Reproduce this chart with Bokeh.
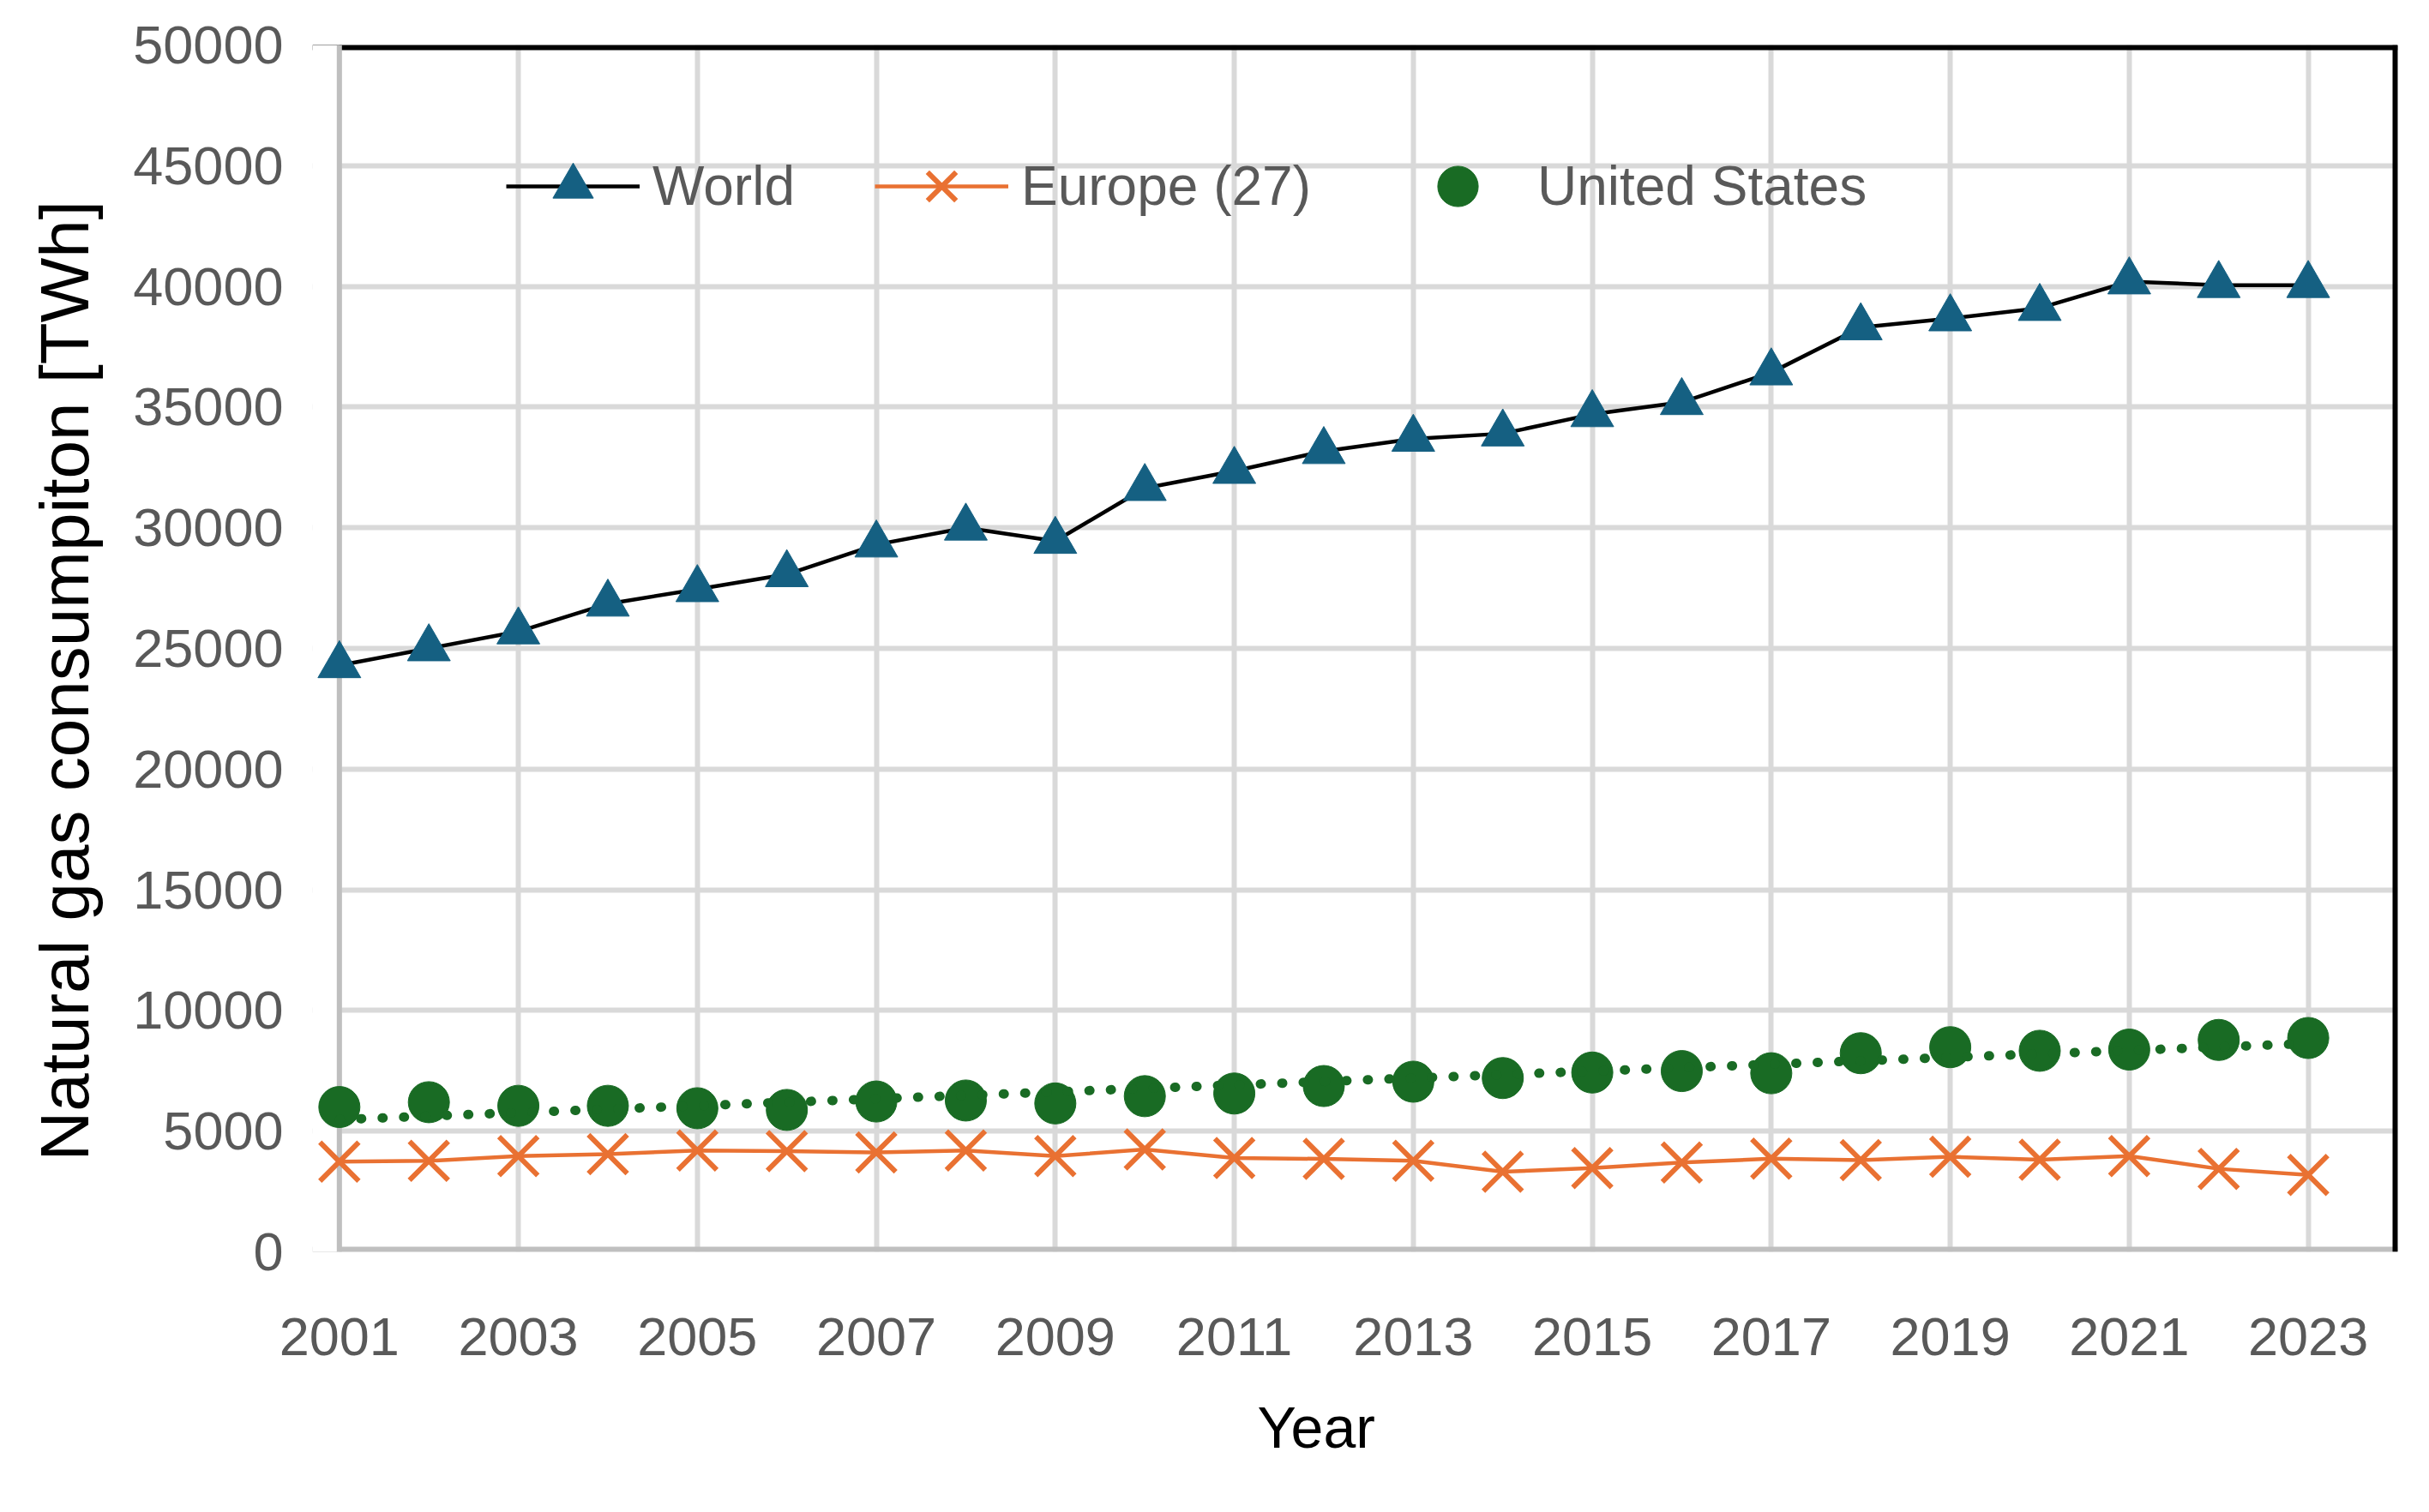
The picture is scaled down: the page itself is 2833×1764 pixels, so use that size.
import numpy as np
from bokeh.plotting import figure
from bokeh.models import (Range1d, FixedTicker, Span, Legend, LegendItem,
                          ColumnDataSource, Title, BoxAnnotation)
from bokeh.embed import file_html
from bokeh.resources import INLINE

# ---------------- data ----------------
years = [2001, 2002, 2003, 2004, 2005, 2006, 2007, 2008, 2009, 2010, 2011, 2012,
         2013, 2014, 2015, 2016, 2017, 2018, 2019, 2020, 2021, 2022, 2023]
world = [24300, 25000, 25700, 26850, 27450, 28070, 29300, 30000, 29450, 31640, 32350, 33170,
         33680, 33900, 34700, 35200, 36430, 38300, 38670, 39100, 40200, 40050, 40050]
europe = [3740, 3770, 3970, 4050, 4200, 4170, 4120, 4200, 3970, 4240, 3890, 3850,
          3770, 3320, 3470, 3700, 3860, 3800, 3940, 3820, 3970, 3440, 3190]
usa = [6000, 6200, 6050, 6050, 5950, 5880, 6230, 6270, 6150, 6450, 6560, 6870,
       7050, 7200, 7430, 7490, 7400, 8230, 8480, 8330, 8380, 8780, 8860]
series_names = ["World", "Europe (27)", "United States"]
y_ticks = [0, 5000, 10000, 15000, 20000, 25000, 30000, 35000, 40000, 45000, 50000]
y_tick_labels = ["0", "5000", "10000", "15000", "20000", "25000", "30000", "35000",
                 "40000", "45000", "50000"]
x_ticks = [2001, 2003, 2005, 2007, 2009, 2011, 2013, 2015, 2017, 2019, 2021, 2023]
x_tick_labels = ["2001", "2003", "2005", "2007", "2009", "2011", "2013", "2015",
                 "2017", "2019", "2021", "2023"]
y_title = "Natural gas consumpiton [TWh]"
x_title = "Year"

FONT = "Liberation Sans"
GRAY_TXT = "#595959"
X0, X_AXIS, X1 = 2000.7, 2001, 2024   # small room left of the y axis so the first markers are whole

p = figure(frame_width=2432, frame_height=1408,
           min_border_left=358, min_border_right=27, min_border_top=52, min_border_bottom=286,
           x_range=Range1d(X0, X1), y_range=Range1d(0, 50000),
           output_backend="svg", toolbar_location=None,
           background_fill_color="white", border_fill_color="white")
p.outline_line_color = None

# grid
p.xgrid.ticker = FixedTicker(ticks=x_ticks)
p.ygrid.ticker = FixedTicker(ticks=y_ticks)
p.grid.grid_line_color = "#D9D9D9"
p.grid.grid_line_width = 6

# axes
p.xaxis.ticker = FixedTicker(ticks=x_ticks)
p.yaxis.ticker = FixedTicker(ticks=y_ticks)
p.xaxis.major_label_overrides = {t: s for t, s in zip(x_ticks, x_tick_labels)}
p.yaxis.major_label_overrides = {t: s for t, s in zip(y_ticks, y_tick_labels)}
for ax in (p.xaxis[0], p.yaxis[0]):
    ax.axis_line_color = None
    ax.major_tick_line_color = None
    ax.minor_tick_line_color = None
    ax.major_tick_out = 0
    ax.major_tick_in = 0
    ax.minor_tick_out = 0
    ax.major_label_text_font = FONT
    ax.major_label_text_font_size = "63px"
    ax.major_label_text_color = GRAY_TXT
p.yaxis.major_label_standoff = 34
p.xaxis.major_label_standoff = 77

# axis titles as side-panel titles (allows the offsets seen in the reference)
p.add_layout(Title(text=y_title, align="left", offset=106, vertical_align="top",
                   standoff=61, text_font=FONT, text_font_size="80px",
                   text_font_style="normal", text_color="black"), "left")
p.add_layout(Title(text=x_title, align="left", offset=1071 + 31, vertical_align="top",
                   standoff=87, text_font=FONT, text_font_size="68px",
                   text_font_style="normal", text_color="black"), "below")

# axis lines (gray) and plot-area border (black); drawn under the data marks
p.add_layout(Span(location=0, dimension="width", line_color="#BFBFBF", line_width=12, level="underlay"))
p.add_layout(Span(location=50000, dimension="width", line_color="black", line_width=12, level="underlay"))
p.add_layout(Span(location=X1, dimension="height", line_color="black", line_width=12, level="underlay"))
p.add_layout(BoxAnnotation(right=X_AXIS, fill_color="white", fill_alpha=1.0, line_color=None,
                           level="underlay"))
p.add_layout(Span(location=X_AXIS, dimension="height", line_color="#BFBFBF", line_width=6, level="underlay"))

src = ColumnDataSource(dict(year=years, world=world, europe=europe, usa=usa))

wl = p.line("year", "world", source=src, line_color="black", line_width=4.5)
wm = p.scatter("year", "world", source=src, marker="triangle", size=50,
               fill_color="#156082", line_color="#156082", line_width=1)
el = p.line("year", "europe", source=src, line_color="#E97132", line_width=4.5)
em = p.scatter("year", "europe", source=src, marker="x", size=64,
               line_color="#E97132", line_width=6)
um = p.scatter("year", "usa", source=src, marker="circle", size=48,
               fill_color="#196B24", line_color="#196B24", line_width=1)

# linear trendline of the US series (least squares, as in the source chart)
slope, intercept = np.polyfit(years, usa, 1)
trend_x = [years[0], years[-1]]
trend_y = [slope * x + intercept for x in trend_x]
p.line(trend_x, trend_y, line_color="#196B24", line_width=11, line_dash="1 24", line_cap="round")

legend = Legend(items=[LegendItem(label=series_names[0], renderers=[wl, wm]),
                       LegendItem(label=series_names[1], renderers=[el, em]),
                       LegendItem(label=series_names[2], renderers=[um])],
                orientation="horizontal", location=(195 + 31, 1184),
                glyph_width=156, glyph_height=118, label_standoff=15, spacing=93,
                padding=0, margin=0, border_line_color=None, background_fill_alpha=0,
                label_text_font=FONT, label_text_font_size="64px",
                label_text_color=GRAY_TXT)
p.add_layout(legend)

open("out.html", "w").write(file_html(p, INLINE, title="Natural gas consumption"))
